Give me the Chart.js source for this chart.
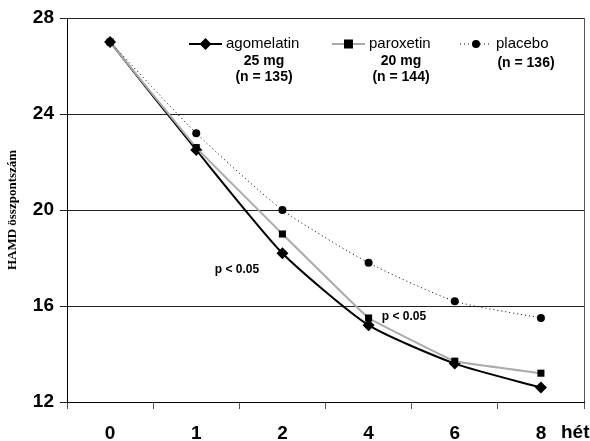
<!DOCTYPE html>
<html>
<head>
<meta charset="utf-8">
<script src="https://cdn.jsdelivr.net/npm/chart.js@4.4.0/dist/chart.umd.min.js"></script>
<style>
  html, body { margin:0; padding:0; background:#fff; }
  #wrap { width:590px; height:441px; position:relative; }
</style>
</head>
<body>
<div id="wrap"><canvas id="c" width="590" height="441"></canvas></div>
<script>
// weeks on x axis
const weeks = ["0","1","2","4","6","8"];
// HAMD total scores
const agomelatin = [27.0, 22.5, 18.2, 15.2, 13.6, 12.6];
const paroxetin  = [27.0, 22.6, 19.0, 15.5, 13.7, 13.2];
const placebo    = [27.0, 23.2, 20.0, 17.8, 16.2, 15.5];
const yTicks = [12, 16, 20, 24, 28];

// legend + notes drawn on the canvas
const legendItems = [
  {lines:["agomelatin","25 mg","(n = 135)"], x1:189, x2:222, tx:226, sub:264, marker:"diamond", color:"#000", dash:[], w:2},
  {lines:["paroxetin","20 mg","(n = 144)"], x1:332, x2:365, tx:369, sub:401, marker:"square", color:"#aaa", dash:[], w:2},
  {lines:["placebo","(n = 136)"], x1:460, x2:492, tx:496, sub:526, marker:"dot", color:"#000", dash:[1,3], w:1}
];

function mark(ctx, type, x, y){
  ctx.fillStyle = "#000";
  ctx.beginPath();
  if(type=="diamond"){
    ctx.moveTo(x, y-6); ctx.lineTo(x+6, y); ctx.lineTo(x, y+6); ctx.lineTo(x-6, y); ctx.closePath();
  } else if(type=="square"){
    ctx.rect(x-4.5, y-4.5, 9, 9);
  } else {
    ctx.arc(x, y, 4, 0, Math.PI*2);
  }
  ctx.fill();
}

const extras = {
  id: "extras",
  afterDraw(chart){
    const ctx = chart.ctx, a = chart.chartArea;
    ctx.save();
    // right border of plot
    ctx.strokeStyle = "#555"; ctx.lineWidth = 1;
    ctx.beginPath(); ctx.moveTo(a.right+0.5, a.top); ctx.lineTo(a.right+0.5, a.bottom); ctx.stroke();

    // legend
    legendItems.forEach(it=>{
      ctx.strokeStyle = it.color; ctx.lineWidth = it.w; ctx.setLineDash(it.dash);
      ctx.beginPath(); ctx.moveTo(it.x1, 44); ctx.lineTo(it.x2, 44); ctx.stroke();
      ctx.setLineDash([]);
      mark(ctx, it.marker, (it.x1+it.x2)/2, 44);
      ctx.fillStyle = "#000";
      ctx.textBaseline = "middle";
      ctx.font = "15px 'Liberation Sans', Arial, sans-serif";
      ctx.textAlign = "left";
      ctx.fillText(it.lines[0], it.tx, 44);
      ctx.font = "bold 14px 'Liberation Sans', Arial, sans-serif";
      ctx.textAlign = "center";
      if(it.lines.length==3){
        ctx.fillText(it.lines[1], it.sub, 61);
        ctx.fillText(it.lines[2], it.sub, 77);
      } else {
        ctx.fillText(it.lines[1], it.sub, 63);
      }
    });

    // significance notes
    ctx.font = "bold 12px 'Liberation Sans', Arial, sans-serif";
    ctx.textAlign = "center";
    ctx.fillText("p < 0.05", 237, 270);
    ctx.fillText("p < 0.05", 404, 317);

    // unit label
    ctx.font = "bold 19px 'Liberation Sans', Arial, sans-serif";
    ctx.textAlign = "left";
    ctx.fillText("hét", 561, 433);
    ctx.restore();
  }
};

new Chart(document.getElementById("c"), {
  type: "line",
  data: {
    labels: weeks,
    datasets: [
      {label:"placebo", data:placebo, borderColor:"#000", borderWidth:1, borderDash:[1,3], tension:0.2,
       pointStyle:"circle", pointRadius:4, pointBackgroundColor:"#000", pointBorderWidth:0},
      {label:"paroxetin", data:paroxetin, borderColor:"#aaa", borderWidth:2, tension:0.05,
       pointStyle:"rect", pointRadius:5, pointBackgroundColor:"#000", pointBorderWidth:0},
      {label:"agomelatin", data:agomelatin, borderColor:"#000", borderWidth:2, tension:0.2,
       pointStyle:"rectRot", pointRadius:6, pointBackgroundColor:"#000", pointBorderWidth:0}
    ]
  },
  options: {
    responsive: false,
    animation: false,
    layout: { padding: { top: 18, right: 6, left: 0, bottom: 0 } },
    plugins: { legend: { display:false }, tooltip: { enabled:false } },
    scales: {
      x: {
        offset: true,
        grid: { offset:true, drawOnChartArea:false, color:"#555", tickLength:7 },
        border: { color:"#000" },
        ticks: { color:"#000", font:{ size:19, weight:"bold", family:"'Liberation Sans', Arial" }, padding:13 },
        afterFit: s => { s.height = 39; }
      },
      y: {
        min: 12, max: 28,
        afterBuildTicks: s => { s.ticks = yTicks.map(v=>({value:v})); },
        grid: { color:"#222", tickLength:7 },
        border: { color:"#000" },
        ticks: { color:"#000", font:{ size:19, weight:"bold", family:"'Liberation Sans', Arial" }, padding:6 },
        title: { display:true, text:"HAMD összpontszám", color:"#000",
                 font:{ size:13, weight:"bold", family:"'Liberation Serif', 'Times New Roman', serif" }, padding:{top:5,bottom:4} },
        afterFit: s => { s.width = 67; }
      }
    }
  },
  plugins: [extras]
});
</script>
</body>
</html>
